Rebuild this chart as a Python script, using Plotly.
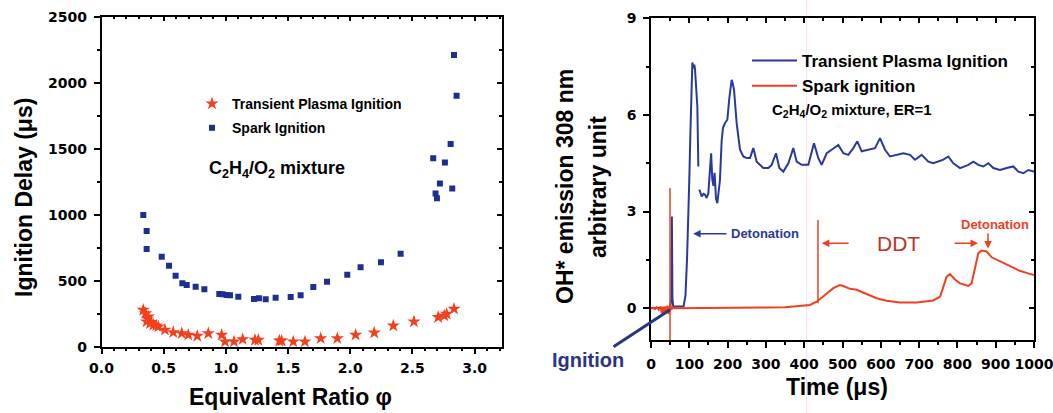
import plotly.graph_objects as go

W, H = 1053, 413

# ---------------- Left chart data ----------------
phi_tpi = [0.336, 0.355, 0.376, 0.363, 0.37, 0.39, 0.40, 0.417, 0.44, 0.457, 0.51, 0.577, 0.645,
           0.698, 0.77, 0.859, 0.966, 0.993, 1.065, 1.135, 1.234, 1.261, 1.43, 1.448, 1.542,
           1.636, 1.762, 1.896, 2.043, 2.193, 2.346, 2.512, 2.707, 2.756, 2.775, 2.834]
delay_tpi = [278, 253, 227, 190, 210, 177, 185, 164, 160, 152, 127, 109, 101,
             89, 81, 101, 89, 38, 38, 56, 51, 51, 45, 45, 38,
             38, 63, 63, 89, 106, 159, 190, 223, 235, 248, 286]

phi_spark = [0.336, 0.363, 0.363, 0.484, 0.543, 0.596, 0.650, 0.685, 0.757, 0.827, 0.947, 0.974,
             1.006, 1.033, 1.10, 1.226, 1.266, 1.32, 1.40, 1.521, 1.601, 1.703, 1.813, 1.976,
             2.083, 2.247, 2.405, 2.667, 2.686, 2.697, 2.721, 2.761, 2.807, 2.82, 2.834, 2.855]
delay_spark = [998, 876, 740, 682, 614, 538, 480, 467, 455, 435, 399, 397,
               392, 389, 379, 361, 367, 359, 371, 376, 389, 452, 492, 545,
               601, 639, 705, 1427, 1161, 1124, 1237, 1396, 1535, 1199, 2209, 1901]

# ---------------- Right chart data ----------------
t_tpi = [0, 50, 53, 54.5, 56, 58, 85, 90, 94, 97.5, 100, 103, 106.2, 108, 110.5, 113.2, 115, 118,
         121, 123.6, None, 126.2, 132.3, 137, 141, 145.3, 149.7, 154, 157, 160, 163, 166, 169.7,
         173.2, 176, 180, 184.5, 188, 193, 199.3, 204.5, 208, 210.6, 213, 216.8, 223.7, 232.4,
         241, 249.8, 258.5, 267.2, 275.9, 293.3, 306.4, 315, 326.4, 335, 345.5, 358.6, 371.6,
         380.3, 393.4, 410.8, 425.6, 436.9, 445.6, 458.7, 471.7, 489.1, 502.2, 515.2, 528.3,
         538.7, 550, 571.8, 584.9, 597.9, 611, 624, 641.4, 658.8, 676.2, 689.3, 706.7, 724.1,
         737.2, 750.2, 763.3, 776.3, 789.4, 806.8, 828.6, 841.6, 854.7, 867.7, 880.8, 893.8,
         911.2, 928.6, 946, 959.1, 972.2, 985.2, 1000]
oh_tpi = [0, 0.02, 0.3, 2.85, 0.3, 0.05, 0.05, 0.4, 1.5, 2.74, 4.0, 5.5, 7.5, 7.63, 7.45, 7.56, 7.4, 6.6,
          6.26, 4.40, None, 3.68, 3.47, 3.55, 3.52, 3.42, 3.57, 4.3, 4.81, 4.0, 3.8, 4.2, 3.4,
          3.26, 3.5, 3.98, 5.2, 5.6, 5.74, 5.85, 6.52, 6.9, 7.09, 7.0, 6.78, 5.74, 4.92,
          4.71, 4.66, 4.66, 4.97, 4.55, 4.35, 4.35, 4.45, 4.81, 4.35, 4.24, 4.50, 4.97,
          4.55, 4.45, 4.45, 5.12, 4.66, 4.45, 4.81, 4.92, 5.07, 4.81, 4.76, 4.97,
          5.18, 4.87, 4.92, 4.97, 5.28, 4.92, 4.71, 4.76, 4.81, 4.76, 4.61, 4.76, 4.55,
          4.50, 4.55, 4.61, 4.71, 4.50, 4.35, 4.45, 4.55, 4.45, 4.40, 4.50, 4.35,
          4.29, 4.35, 4.40, 4.24, 4.19, 4.29, 4.24]

t_spark = [0, 5, 10, 15, 20, 25, 28, 30, 33, 36, 40, 43, 46, 50, 53, 56, 60, 70, 100, 150, 200, 250,
           300, 350, 389, 415, 432.6, 454, 476, 493.5, 502, 519.6, 537, 563, 589, 615, 650, 694,
           737, 755, 763, 772, 780.6, 793.7, 807, 828.6, 837, 846, 854.7, 863, 876, 889.5, 911,
           937, 963, 985, 1000]
oh_spark = [0, 0.02, -0.03, 0.03, -0.05, 0.05, -0.15, 0.04, -0.2, 0.05, -0.12, 0.08, -0.18, 0.1,
            -0.05, 0.03, 0.0, 0.0, 0.01, 0.0, 0.02, 0.01, 0.02, 0.03, 0.07, 0.1, 0.2, 0.41, 0.62,
            0.72, 0.69, 0.60, 0.57, 0.44, 0.31, 0.23, 0.18, 0.18, 0.24, 0.36, 0.67, 0.98, 1.06,
            0.89, 0.77, 0.69, 0.77, 1.29, 1.71, 1.79, 1.76, 1.58, 1.45, 1.31, 1.16, 1.08, 1.03]

ign_marker_t = [49.6, 49.6]
ign_marker_v = [-1, 3.73]
ddt_start_t = 436
ddt_line_v = [0.15, 2.74]
det_tpi_t = 110
det_spark_t = 880

BLUE = '#2a3a9c'
NAVY = '#1f2f8f'
RED = '#f2401f'
FONT = 'Liberation Sans'
TICKFONT = dict(family='DejaVu Sans', size=14, color='black', weight='bold')


def px(x):
    return x / W


def py(y):
    return 1 - y / H


fig = go.Figure()

fig.add_trace(go.Scatter(x=phi_spark, y=delay_spark, mode='markers', name='Spark Ignition',
                         marker=dict(symbol='square', size=6, color=NAVY),
                         xaxis='x', yaxis='y', legend='legend', legendgroup='b', legendrank=2))
fig.add_trace(go.Scatter(x=phi_tpi, y=delay_tpi, mode='markers', name='Transient Plasma Ignition',
                         marker=dict(symbol='star', size=10, color=RED),
                         xaxis='x3', yaxis='y3', legend='legend', legendgroup='a', legendrank=1))

fig.add_trace(go.Scatter(x=t_tpi, y=oh_tpi, mode='lines', name='Transient Plasma Ignition',
                         line=dict(color=BLUE, width=2), connectgaps=False,
                         xaxis='x2', yaxis='y2', legend='legend2', legendgroup='c', legendrank=1))
fig.add_trace(go.Scatter(x=t_spark, y=oh_spark, mode='lines', name='Spark ignition',
                         line=dict(color=RED, width=2),
                         xaxis='x4', yaxis='y4', legend='legend2', legendgroup='d', legendrank=2))
fig.add_trace(go.Scatter(x=ign_marker_t, y=ign_marker_v, mode='lines', showlegend=False,
                         line=dict(color=RED, width=1.5), xaxis='x4', yaxis='y4'))

common = dict(showline=True, linewidth=1.5, linecolor='black', mirror=True, showgrid=False,
              zeroline=False, ticks='outside', ticklen=6, tickwidth=1.5, tickcolor='black',
              tickfont=TICKFONT, automargin=False, ticklabeloverflow='allow')
inner = dict(showline=True, linewidth=1.5, linecolor='black', showgrid=False, zeroline=False,
             ticks='inside', ticklen=5, tickwidth=1.5, tickcolor='black', showticklabels=False,
             automargin=False)

lx = [px(101.5), px(502)]
ly = [py(346.7), py(16.7)]
rx = [px(651), px(1034)]
ry = [py(340.4), py(18.3)]

fig.update_layout(
    width=W, height=H, margin=dict(l=0, r=0, t=0, b=0, autoexpand=False),
    paper_bgcolor='white', plot_bgcolor='white',
    xaxis=dict(domain=lx, range=[0, 3.22], anchor='y', tick0=0, dtick=0.5, tickformat='.1f',
               minor=dict(dtick=0.1, ticklen=3, ticks='outside', tickcolor='black'),
               ticklabelstandoff=2, **common),
    yaxis=dict(domain=ly, range=[0, 2500], anchor='x', tick0=0, dtick=500,
               minor=dict(dtick=250, ticklen=3, ticks='outside', tickcolor='black'),
               ticklabelstandoff=4, **common),
    xaxis3=dict(overlaying='x', side='top', anchor='y3', range=[0, 3.22], tick0=0, dtick=0.5,
                minor=dict(dtick=0.1, ticklen=3, ticks='inside', tickcolor='black'), **inner),
    yaxis3=dict(overlaying='y', side='right', anchor='x3', range=[0, 2500], tick0=0, dtick=500,
                minor=dict(dtick=250, ticklen=3, ticks='inside', tickcolor='black'), **inner),
    xaxis2=dict(domain=rx, range=[0, 1000], anchor='y2', tick0=0, dtick=100,
                minor=dict(dtick=50, ticklen=3, ticks='outside', tickcolor='black'),
                ticklabelstandoff=4, **common),
    yaxis2=dict(domain=ry, range=[-1, 9], anchor='x2', tick0=0, dtick=3,
                minor=dict(dtick=1.5, ticklen=3, ticks='outside', tickcolor='black'),
                ticklabelstandoff=4, **common),
    xaxis4=dict(overlaying='x2', side='top', anchor='y4', range=[0, 1000], tick0=0, dtick=100,
                minor=dict(dtick=50, ticklen=3, ticks='inside', tickcolor='black'), **inner),
    yaxis4=dict(overlaying='y2', side='right', anchor='x4', range=[-1, 9], tick0=0, dtick=3,
                minor=dict(dtick=1.5, ticklen=3, ticks='inside', tickcolor='black'), **inner),
    legend=dict(x=px(192), y=py(88), xanchor='left', yanchor='top', bgcolor='rgba(0,0,0,0)',
                font=dict(family=FONT, size=14, color='black', weight='bold'),
                traceorder='grouped', tracegroupgap=3, itemwidth=30),
    legend2=dict(x=px(747), y=py(43), xanchor='left', yanchor='top', bgcolor='rgba(0,0,0,0)',
                 font=dict(family=FONT, size=17, color='black', weight='bold'),
                 traceorder='grouped', tracegroupgap=0, itemwidth=45),
    showlegend=True,
)

ann = []


def text_ann(text, x, y, size, color='black', angle=0, xanchor='center', weight='bold',
             xref='paper', yref='paper'):
    ann.append(dict(text=text, x=x, y=y, xref=xref, yref=yref, showarrow=False,
                    xanchor=xanchor, yanchor='middle', textangle=angle,
                    font=dict(family=FONT, size=size, color=color, weight=weight)))


# axis titles
text_ann('Ignition Delay (μs)', px(24), py(198), 23, angle=-90)
text_ann('Equivalent Ratio φ', px(290), py(397), 23)
text_ann('OH* emission 308 nm', px(565), py(187), 23, angle=-90)
text_ann('arbitrary unit', px(598), py(187), 23, angle=-90)
text_ann('Time (μs)', px(837), py(387), 23)

# in-plot labels
text_ann('C<sub>2</sub>H<sub>4</sub>/O<sub>2</sub> mixture', px(207), py(169), 18, xanchor='left')
text_ann('C<sub>2</sub>H<sub>4</sub>/O<sub>2</sub> mixture, ER=1', px(770), py(110), 15, xanchor='left')
text_ann('Detonation', 204, 2.31, 13, color=BLUE, xanchor='left', xref='x2', yref='y2')
text_ann('DDT', 645, 2.02, 21, color='#c0321f', weight='normal', xref='x2', yref='y2')
text_ann('Detonation', 898, 2.59, 13, color=RED, xref='x2', yref='y2')
text_ann('Ignition', px(588), py(360), 20, color='#2b3580')


def arrow(x, y, ax, ay, color, width=1.5, head=2):
    ann.append(dict(text='', x=x, y=y, ax=ax, ay=ay, xref='x2', yref='y2', axref='x2', ayref='y2',
                    showarrow=True, arrowhead=head, arrowsize=1, arrowwidth=width,
                    arrowcolor=color))


arrow(det_tpi_t, 2.31, 201, 2.31, BLUE)
arrow(446, 2.02, 520, 2.02, RED)
arrow(854, 2.02, 789, 2.02, RED)
arrow(det_spark_t, 1.85, det_spark_t, 2.37, RED)

ann.append(dict(text='', x=49.6, y=-0.05, xref='x2', yref='y2', ax=-58, ay=38,
                showarrow=True, arrowhead=0, arrowwidth=3, arrowcolor='#2b3580'))

fig.update_layout(annotations=ann)

fig.add_shape(type='line', xref='x2', yref='y2', x0=ddt_start_t, x1=ddt_start_t,
              y0=ddt_line_v[0], y1=ddt_line_v[1], line=dict(color=RED, width=1.5))
fig.add_shape(type='line', xref='paper', yref='paper', x0=px(806.7), x1=px(806.7), y0=0, y1=1,
              line=dict(color='#f4dcf2', width=1), layer='below')

fig.write_html('out.html', config={'displayModeBar': False},
               post_script="document.body.style.margin='0';")
